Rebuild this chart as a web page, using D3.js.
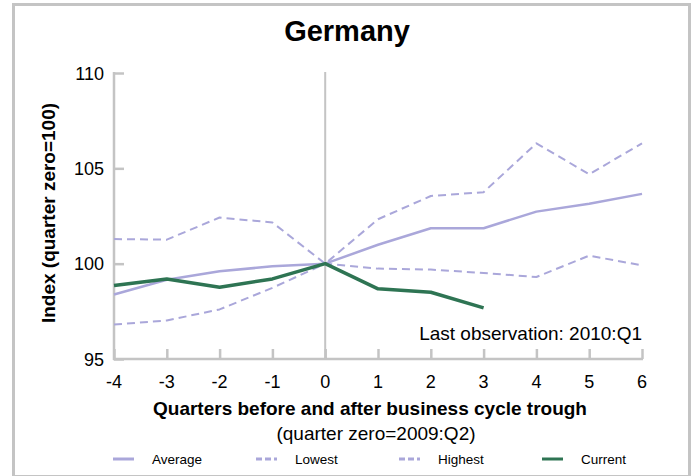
<!DOCTYPE html>
<html>
<head>
<meta charset="utf-8">
<script src="https://cdn.jsdelivr.net/npm/d3@7"></script>
<style>
  body { margin: 0; background: #fff; }
  text { font-family: "Liberation Sans", Arial, sans-serif; }
</style>
</head>
<body>
<svg id="chart" width="694" height="476"></svg>
<script>
var quarters = [-4, -3, -2, -1, 0, 1, 2, 3, 4, 5, 6];
var average = [98.38, 99.16, 99.6, 99.86, 100, 100.99, 101.86, 101.86, 102.73, 103.14, 103.66];
var lowest = [96.81, 97.02, 97.6, 98.73, 100, 99.74, 99.69, 99.51, 99.3, 100.42, 99.91];
var highest = [101.29, 101.26, 102.42, 102.16, 100, 102.33, 103.55, 103.75, 106.31, 104.69, 106.31];
var current = [98.85, 99.2, 98.76, 99.2, 100, 98.68, 98.5, 97.68];
var yTicks = [95, 100, 105, 110];
var legendItems = ['Average', 'Lowest', 'Highest', 'Current'];

var svg = d3.select('#chart');
var lavender = '#aaa7da';
var green = '#2e7453';
var grey = '#c4c4c4';

// frame
svg.append('rect')
    .attr('x', 13.5).attr('y', 4.5)
    .attr('width', 676).attr('height', 472)
    .attr('fill', 'none')
    .attr('stroke', grey)
    .attr('stroke-width', 3);

var x = d3.scaleLinear().domain([-4, 6]).range([114, 642]);
var y = d3.scaleLinear().domain([95, 110]).range([359, 73]);

svg.append('text')
    .attr('x', 347).attr('y', 41)
    .attr('text-anchor', 'middle')
    .style('font-size', '29px').style('font-weight', 'bold')
    .text('Germany');

// axes
var yAxis = svg.append('g')
    .attr('transform', 'translate(114,0)')
    .call(d3.axisRight(y).tickValues(yTicks).tickSize(10).tickFormat(''));
var xAxis = svg.append('g')
    .attr('transform', 'translate(0,359)')
    .call(d3.axisTop(x).tickValues(quarters).tickSize(10).tickFormat(''));
[yAxis, xAxis].forEach(function(g) {
  g.select('.domain').remove();
  g.selectAll('line').attr('stroke', grey).attr('stroke-width', 2.5);
});
svg.append('line')
    .attr('x1', 114).attr('x2', 114).attr('y1', 72).attr('y2', 360)
    .attr('stroke', grey).attr('stroke-width', 2.5);
svg.append('line')
    .attr('x1', 113).attr('x2', 643).attr('y1', 359).attr('y2', 359)
    .attr('stroke', grey).attr('stroke-width', 2.5);
svg.append('line')
    .attr('x1', x(0)).attr('x2', x(0)).attr('y1', 72).attr('y2', 359)
    .attr('stroke', grey).attr('stroke-width', 2);

svg.selectAll('.ylab')
    .data(yTicks)
    .enter().append('text')
    .attr('class', 'ylab')
    .attr('x', 104).attr('y', function(d) { return y(d) + 6.5; })
    .attr('text-anchor', 'end')
    .style('font-size', '18px')
    .text(function(d) { return d; });

svg.selectAll('.xlab')
    .data(quarters)
    .enter().append('text')
    .attr('class', 'xlab')
    .attr('x', function(d) { return x(d); }).attr('y', 388)
    .attr('text-anchor', 'middle')
    .style('font-size', '18px')
    .text(function(d) { return d; });

svg.append('text')
    .attr('x', 370).attr('y', 415)
    .attr('text-anchor', 'middle')
    .style('font-size', '19px').style('font-weight', 'bold')
    .text('Quarters before and after business cycle trough');
svg.append('text')
    .attr('x', 376).attr('y', 440)
    .attr('text-anchor', 'middle')
    .style('font-size', '19px')
    .text('(quarter zero=2009:Q2)');
svg.append('text')
    .attr('transform', 'translate(55,213) rotate(-90)')
    .attr('text-anchor', 'middle')
    .style('font-size', '19px').style('font-weight', 'bold')
    .text('Index (quarter zero=100)');
svg.append('text')
    .attr('x', 642).attr('y', 340)
    .attr('text-anchor', 'end')
    .style('font-size', '19px')
    .text('Last observation: 2010:Q1');

// lines
var line = d3.line()
    .x(function(d, i) { return x(quarters[i]); })
    .y(function(d) { return y(d); });

var series = [
  {name: 'Average', values: average, color: lavender, width: 2.5, dash: null},
  {name: 'Lowest', values: lowest, color: lavender, width: 2, dash: '8,5'},
  {name: 'Highest', values: highest, color: lavender, width: 2, dash: '8,5'},
  {name: 'Current', values: current, color: green, width: 3.5, dash: null}
];

svg.selectAll('.series')
    .data(series)
    .enter().append('path')
    .attr('class', 'series')
    .attr('d', function(d) { return line(d.values); })
    .attr('fill', 'none')
    .attr('stroke', function(d) { return d.color; })
    .attr('stroke-width', function(d) { return d.width; })
    .attr('stroke-dasharray', function(d) { return d.dash; })
    .attr('stroke-linejoin', 'round');

// legend
var legendX = d3.scalePoint().domain(legendItems).range([113, 542]);
var leg = svg.selectAll('.leg')
    .data(series)
    .enter().append('g')
    .attr('class', 'leg')
    .attr('transform', function(d) { return 'translate(' + legendX(d.name) + ',459)'; });
leg.append('line')
    .attr('x1', 0).attr('x2', 21).attr('y1', 0).attr('y2', 0)
    .attr('stroke', function(d) { return d.color; })
    .attr('stroke-width', 3)
    .attr('stroke-dasharray', function(d) { return d.dash ? '6,3' : null; });
leg.append('text')
    .attr('x', 39).attr('y', 5)
    .style('font-size', '13.5px')
    .text(function(d) { return d.name; });
</script>
</body>
</html>
